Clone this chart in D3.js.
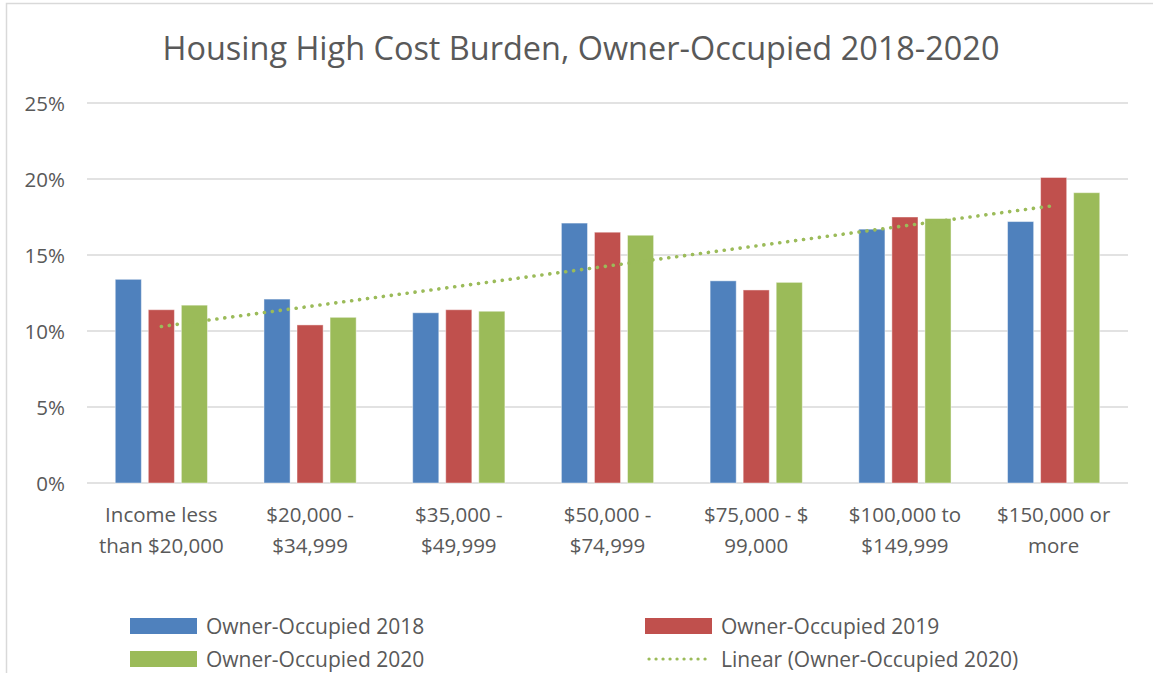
<!DOCTYPE html>
<html>
<head>
<meta charset="utf-8">
<script src="https://cdn.jsdelivr.net/npm/d3@7"></script>
<style>
  html, body { margin: 0; padding: 0; background: #fff; }
  svg { display: block; font-family: "Open Sans", "Noto Sans", sans-serif; }
</style>
</head>
<body>
<svg id="chart" width="1153" height="673"></svg>
<script>
const categories = [
  ["Income less", "than $20,000"],
  ["$20,000 -", "$34,999"],
  ["$35,000 -", "$49,999"],
  ["$50,000 -", "$74,999"],
  ["$75,000 - $", "99,000"],
  ["$100,000 to", "$149,999"],
  ["$150,000 or", "more"]
];
const seriesNames = ["Owner-Occupied 2018", "Owner-Occupied 2019", "Owner-Occupied 2020"];
const values2018 = [13.4, 12.1, 11.2, 17.1, 13.3, 16.7, 17.2];
const values2019 = [11.4, 10.4, 11.4, 16.5, 12.7, 17.5, 20.1];
const values2020 = [11.7, 10.9, 11.3, 16.3, 13.2, 17.4, 19.1];
const yTicks = [0, 5, 10, 15, 20, 25];
const colors = ["#4F81BD", "#C0504D", "#9BBB59"];
const titleText = "Housing High Cost Burden, Owner-Occupied 2018-2020";
const trendName = "Linear (Owner-Occupied 2020)";

const series = [values2018, values2019, values2020];
const svg = d3.select("#chart");

// chart border
svg.append("rect").attr("x", 6.5).attr("y", 3.5).attr("width", 1160).attr("height", 700)
  .attr("fill", "none").attr("stroke", "#D9D9D9").attr("stroke-width", 1.5);

const plot = { left: 87, right: 1128, top: 103, bottom: 483 };
const catIdx = categories.map((d, i) => i);
const x0 = d3.scaleBand().domain(catIdx).range([plot.left, plot.right]).paddingInner(0.38).paddingOuter(0.19);
const x1 = d3.scaleBand().domain([0, 1, 2]).range([0, x0.bandwidth()]).paddingInner(0.21).paddingOuter(0);
const y = d3.scaleLinear().domain([0, 25]).range([plot.bottom, plot.top]);

// gridlines
svg.append("g").selectAll("line").data(yTicks).join("line")
  .attr("x1", plot.left).attr("x2", plot.right)
  .attr("y1", d => y(d)).attr("y2", d => y(d))
  .attr("stroke", "#D9D9D9").attr("stroke-width", 1.5);

// y axis labels
const yAxis = d3.axisLeft(y).tickValues(yTicks).tickFormat(d => d + "%").tickSize(0).tickPadding(0);
const yg = svg.append("g").attr("transform", `translate(65,0)`).call(yAxis);
yg.select(".domain").remove();
yg.selectAll("text").attr("font-size", 20.5).attr("fill", "#595959")
  .attr("font-family", "Open Sans").attr("dy", "0.36em");

// bars
const groups = svg.append("g").selectAll("g").data(catIdx).join("g")
  .attr("transform", i => `translate(${x0(i)},0)`);
groups.selectAll("rect").data(i => series.map((s, k) => ({ k, v: s[i] }))).join("rect")
  .attr("x", d => x1(d.k)).attr("width", x1.bandwidth())
  .attr("y", d => y(d.v)).attr("height", d => y(0) - y(d.v))
  .attr("fill", d => colors[d.k])
  .attr("stroke", "rgba(255,255,255,0.45)").attr("stroke-width", 1);

// category labels
const xl = svg.append("g");
catIdx.forEach(i => {
  const t = xl.append("text").attr("x", x0(i) + x0.bandwidth() / 2).attr("text-anchor", "middle")
    .attr("font-size", 20.5).attr("fill", "#595959");
  categories[i].forEach((line, j) => {
    t.append("tspan").attr("x", x0(i) + x0.bandwidth() / 2).attr("y", 522 + j * 31).text(line);
  });
});

// linear trendline for 2020 (least squares on category index)
const n = values2020.length;
const xs = values2020.map((d, i) => i + 1);
const mx = d3.mean(xs), my = d3.mean(values2020);
const slope = d3.sum(xs.map((xv, i) => (xv - mx) * (values2020[i] - my))) / d3.sum(xs.map(xv => (xv - mx) ** 2));
const intercept = my - slope * mx;
const trendPts = [1, n].map(xv => [x0(xv - 1) + x0.bandwidth() / 2, y(intercept + slope * xv)]);
svg.append("path").attr("d", d3.line()(trendPts))
  .attr("fill", "none").attr("stroke", "#9BBB59").attr("stroke-width", 3.6)
  .attr("stroke-linecap", "round").attr("stroke-dasharray", "0.1,7.9");

// title
const title = svg.append("text").attr("x", 581).attr("y", 60).attr("text-anchor", "middle")
  .attr("font-size", 32).attr("fill", "#595959").text(titleText);
const tw = title.node().getComputedTextLength();
title.attr("font-size", 32 * 837 / tw);

// legend
const legendItems = [
  { name: seriesNames[0], type: "bar", color: colors[0], x: 130, y: 626 },
  { name: seriesNames[1], type: "bar", color: colors[1], x: 645, y: 626 },
  { name: seriesNames[2], type: "bar", color: colors[2], x: 130, y: 659 },
  { name: trendName, type: "line", color: colors[2], x: 645, y: 659 }
];
const lg = svg.append("g");
legendItems.forEach(it => {
  if (it.type === "bar") {
    lg.append("rect").attr("x", it.x).attr("y", it.y - 8).attr("width", 67).attr("height", 16).attr("fill", it.color);
  } else {
    lg.append("line").attr("x1", it.x + 4).attr("x2", it.x + 67).attr("y1", it.y).attr("y2", it.y)
      .attr("stroke", it.color).attr("stroke-width", 3.2).attr("stroke-linecap", "round")
      .attr("stroke-dasharray", "0.1,6.9");
  }
  lg.append("text").attr("x", it.x + 76).attr("y", it.y).attr("dy", "0.36em")
    .attr("font-size", 21).attr("fill", "#595959").text(it.name);
});
</script>
</body>
</html>
